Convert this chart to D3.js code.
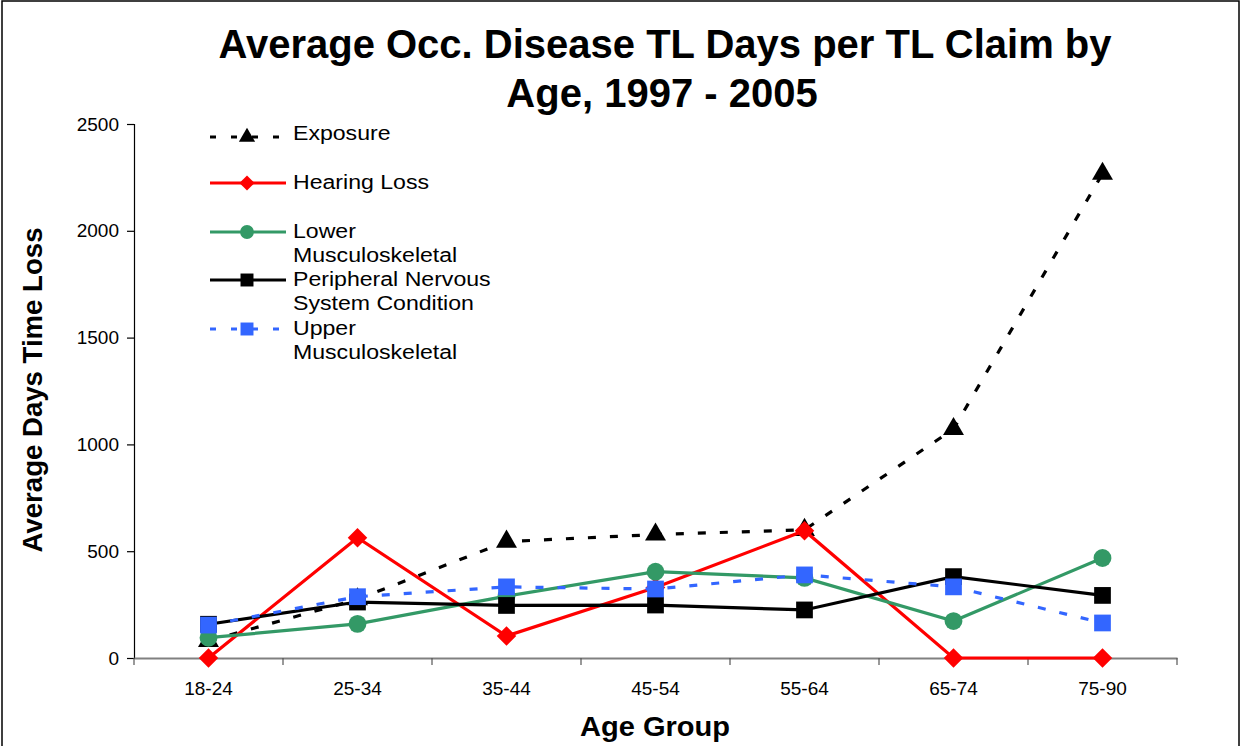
<!DOCTYPE html>
<html><head><meta charset="utf-8">
<script src="https://cdn.jsdelivr.net/npm/d3@7"></script>
<style>body{margin:0;background:#fff;}svg{display:block;font-family:"Liberation Sans",Arial,sans-serif;}</style>
</head><body>
<svg id="c" width="1244" height="746"></svg>
<script>
const categories = ["18-24","25-34","35-44","45-54","55-64","65-74","75-90"];
const exposure = [80, 275, 545, 578, 600, 1072, 2267];
const hearingLoss = [0, 563, 103, 330, 596, 0, 0];
const lowerMusculoskeletal = [95, 160, 290, 404, 375, 173, 468];
const peripheralNervous = [158, 262, 246, 248, 225, 381, 293];
const upperMusculoskeletal = [154, 287, 333, 323, 389, 333, 164];
const yTicks = [0, 500, 1000, 1500, 2000, 2500];
const seriesNames = [["Exposure"],["Hearing Loss"],["Lower","Musculoskeletal"],["Peripheral Nervous","System Condition"],["Upper","Musculoskeletal"]];

const series = [
  {name: seriesNames[0], values: exposure, color: "#000000", dash: "8,14", sym: d3.symbolTriangle, size: 190, rot: 0},
  {name: seriesNames[1], values: hearingLoss, color: "#ff0000", dash: null, sym: d3.symbolSquare, size: 190, rot: 45},
  {name: seriesNames[2], values: lowerMusculoskeletal, color: "#339966", dash: null, sym: d3.symbolCircle, size: 250, rot: 0},
  {name: seriesNames[3], values: peripheralNervous, color: "#000000", dash: null, sym: d3.symbolSquare, size: 280, rot: 0},
  {name: seriesNames[4], values: upperMusculoskeletal, color: "#3366ff", dash: "8,14", sym: d3.symbolSquare, size: 280, rot: 0}
];

const svg = d3.select("#c");
const X0 = 134, X1 = 1177, Y0 = 658, Y1 = 124;
const xb = d3.scaleBand().domain(categories).range([X0, X1]);
const x = d => xb(d) + xb.bandwidth()/2;
const y = d3.scaleLinear().domain([0, 2500]).range([Y0, Y1]);

// frame
svg.append("rect").attr("x",2).attr("y",1).attr("width",1237).attr("height",760)
  .attr("fill","none").attr("stroke","#000").attr("stroke-width",1.5);

// title
svg.append("text").attr("x",665).attr("y",58).attr("text-anchor","middle")
  .attr("font-size",40).attr("font-weight","bold").text("Average Occ. Disease TL Days per TL Claim by");
svg.append("text").attr("x",662).attr("y",107).attr("text-anchor","middle")
  .attr("font-size",40).attr("font-weight","bold").text("Age, 1997 - 2005");

// y axis
const ya = svg.append("g").attr("transform",`translate(${X0},0)`)
  .call(d3.axisLeft(y).tickValues(yTicks).tickSize(7).tickPadding(8).tickFormat(d3.format("d")));
ya.selectAll("text").attr("font-size",19).attr("font-family","Liberation Sans, Arial, sans-serif").attr("fill","#000");
ya.selectAll("line,path").attr("stroke","#000").attr("stroke-width",1.2);

// x axis
const xa = svg.append("g").attr("transform",`translate(0,${Y0})`)
  .call(d3.axisBottom(xb).tickSize(0).tickPadding(24));
xa.select("path").attr("stroke","#808080").attr("stroke-width",2);
xa.selectAll("text").attr("font-size",19).attr("font-family","Liberation Sans, Arial, sans-serif").attr("fill","#000");
const edges = categories.map(c => xb(c)).concat([X1]);
xa.selectAll("line.edge").data(edges).enter().append("line").attr("class","edge")
  .attr("x1",d=>d).attr("x2",d=>d).attr("y1",0).attr("y2",7).attr("stroke","#555").attr("stroke-width",1.2);

// axis titles
svg.append("text").attr("x",655).attr("y",736).attr("text-anchor","middle")
  .attr("font-size",28).attr("font-weight","bold").attr("textLength",150).attr("lengthAdjust","spacingAndGlyphs").text("Age Group");
svg.append("text").attr("transform","translate(42,390) rotate(-90)").attr("text-anchor","middle")
  .attr("font-size",27).attr("font-weight","bold").attr("textLength",325).attr("lengthAdjust","spacingAndGlyphs").text("Average Days Time Loss");

// series
const line = d3.line().x((d,i)=>x(categories[i])).y(d=>y(d));
series.forEach(s => {
  const g = svg.append("g");
  g.append("path").datum(s.values).attr("d", line).attr("fill","none")
    .attr("stroke", s.color).attr("stroke-width", 3.2).attr("stroke-dasharray", s.dash);
  g.selectAll("path.m").data(s.values).enter().append("path").attr("class","m")
    .attr("d", d3.symbol().type(s.sym).size(s.size))
    .attr("transform",(d,i)=>`translate(${x(categories[i])},${y(d)}) rotate(${s.rot})`)
    .attr("fill", s.color);
});

// legend
const rows = [132, 181, 230, 278, 327];
series.forEach((s,i) => {
  const g = svg.append("g").attr("transform",`translate(0,${rows[i]})`);
  const ly = i === 0 ? 5 : 2;
  g.append("line").attr("x1",210).attr("x2",286).attr("y1",ly).attr("y2",ly)
    .attr("stroke",s.color).attr("stroke-width",3).attr("stroke-dasharray", s.dash ? "6,15" : null);
  g.append("path").attr("d", d3.symbol().type(s.sym).size(s.size*0.6))
    .attr("transform",`translate(247,${ly}) rotate(${s.rot})`).attr("fill",s.color);
  const t = g.append("text").attr("transform","translate(293,7.5) scale(1.1,1)").attr("x",0).attr("y",0).attr("font-size",21);
  s.name.forEach((n,j)=> t.append("tspan").attr("x",0).attr("dy", j===0?0:25).text(n));
});
</script>
</body></html>
